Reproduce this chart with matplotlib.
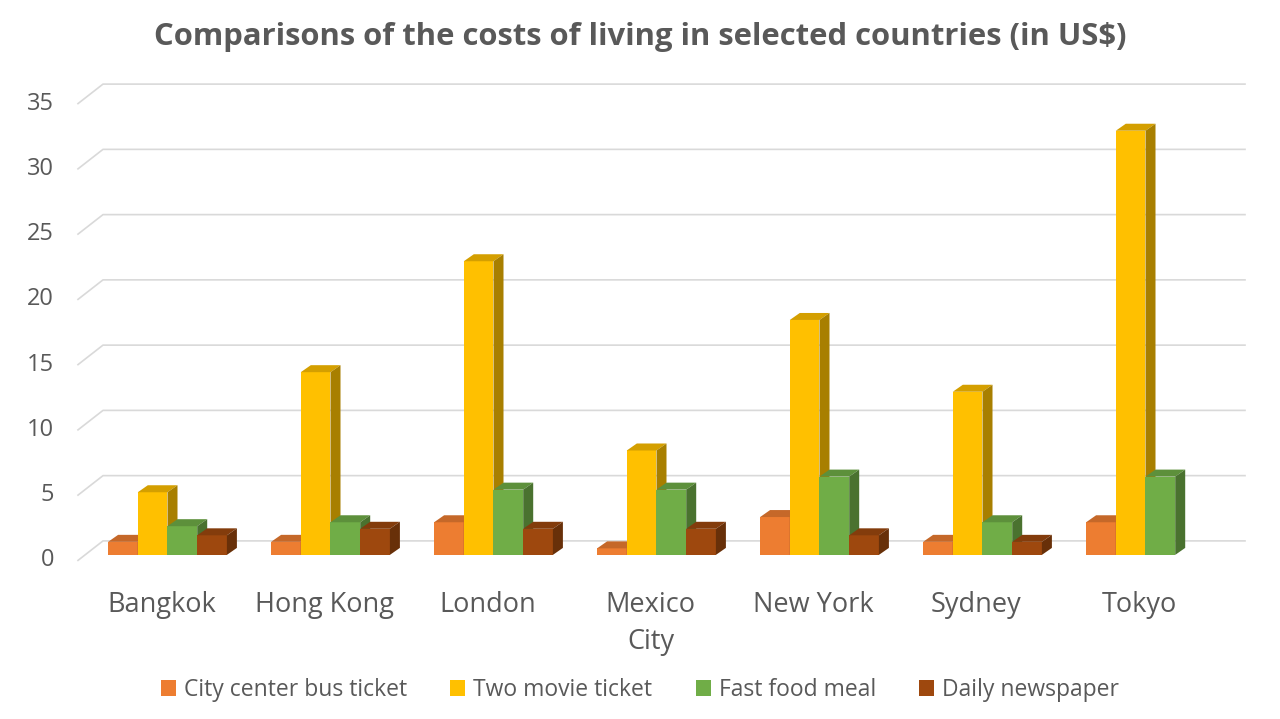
import numpy as np
import matplotlib
matplotlib.use("Agg")
import matplotlib.pyplot as plt
from matplotlib.patches import Polygon, Rectangle
import matplotlib.colors as mcolors

plt.rcParams['font.family'] = ['Open Sans', 'DejaVu Sans']

cities = ["Bangkok", "Hong Kong", "London", "Mexico\nCity", "New York", "Sydney", "Tokyo"]
series = ["City center bus ticket", "Two movie ticket", "Fast food meal", "Daily newspaper"]
bus = [1.0, 1.0, 2.5, 0.5, 2.9, 1.0, 2.5]
movie = [4.8, 14.0, 22.5, 8.0, 18.0, 12.5, 32.5]
food = [2.2, 2.5, 5.0, 5.0, 6.0, 2.5, 6.0]
paper = [1.5, 2.0, 2.0, 2.0, 1.5, 1.0, 0.0]
colors = ["#ED7D31", "#FFC000", "#70AD47", "#9E480E"]
yticks = [0, 5, 10, 15, 20, 25, 30, 35]

W, H = 1280, 719
fig = plt.figure(figsize=(W / 100, H / 100), dpi=100)

# axes placed in pixels so depth offsets can be given in pixels
px_left, px_right = 0, 1280
py_bottom, py_top = 581, 72
ylim = (-2, 37)
ppy = (py_bottom - py_top) / (ylim[1] - ylim[0])
ppx = 163.0
x0_px = 167.5
xlim = ((px_left - x0_px) / ppx, (px_right - x0_px) / ppx)
ax = fig.add_axes([px_left / W, (H - py_bottom) / H,
                   (px_right - px_left) / W, (py_bottom - py_top) / H])
ax.set_xlim(*xlim)
ax.set_ylim(*ylim)
ax.axis("off")

def shade(c, f):
    r, g, b = mcolors.to_rgb(c)
    return (r * f, g * f, b * f)

def px2x(p):
    return (p - x0_px) / ppx

# back wall gridlines with the slanted side wall
down = 5.5 / ppy
up = 14 / ppy
for v in yticks:
    ax.plot([px2x(78), px2x(103), px2x(1245)], [v - down, v + up, v + up],
            color="#D9D9D9", lw=1.2, zorder=1)
    ax.text(px2x(54), v - down, str(v), ha="right", va="center",
            fontsize=17, color="#595959")

# bars drawn as fronts with top and side faces
bw = 29.7 / ppx
dx = 10 / ppx
dy = 7 / ppy
data = [bus, movie, food, paper]
z = 2
for i in range(len(cities)):
    start = i - 2 * bw
    for k, vals in enumerate(data):
        v = vals[i]
        if v <= 0:
            continue
        xl = start + k * bw
        xr = xl + bw
        c = colors[k]
        ax.add_patch(Rectangle((xl, 0), bw, v, facecolor=c, edgecolor="none", zorder=z))
        ax.add_patch(Polygon([(xl, v), (xr, v), (xr + dx, v + dy), (xl + dx, v + dy)],
                             closed=True, facecolor=shade(c, 0.83), edgecolor="none", zorder=z))
        ax.add_patch(Polygon([(xr, 0), (xr + dx, dy), (xr + dx, v + dy), (xr, v)],
                             closed=True, facecolor=shade(c, 0.66), edgecolor="none", zorder=z))
        z += 1

# category labels
for i, name in enumerate(cities):
    ax.text(i - 6 / ppx, -2.75, name, ha="center", va="top", fontsize=19.5,
            color="#595959", linespacing=1.42, clip_on=False)

fig.text(0.5, 1 - 37 / H, "Comparisons of the costs of living in selected countries (in US$)",
         ha="center", va="center", fontsize=22.3, fontweight="bold", color="#595959")

handles = [Rectangle((0, 0), 1, 1, facecolor=c, edgecolor="none") for c in colors]
fig.legend(handles, series, loc="center", bbox_to_anchor=(0.5, 1 - 690 / H), ncol=4,
           frameon=False, fontsize=16.5, handlelength=0.65, handleheight=0.65,
           handletextpad=0.35, columnspacing=1.9, labelcolor="#595959")

fig.savefig("out.png", dpi=100)
